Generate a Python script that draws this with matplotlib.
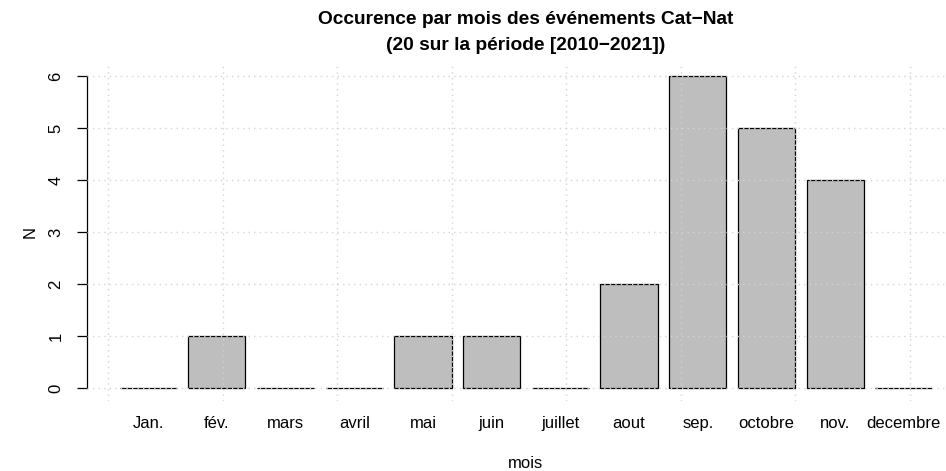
import numpy as np
import matplotlib.pyplot as plt

plt.rcParams['font.family'] = ['Liberation Sans', 'DejaVu Sans']

months = ["Jan.", "fév.", "mars", "avril", "mai", "juin", "juillet",
          "aout", "sep.", "octobre", "nov.", "decembre"]
counts = [0, 1, 0, 0, 1, 1, 0, 2, 6, 5, 4, 0]

# R barplot layout: width 1, space 0.2
width = 1.0
space = 0.2
lefts = space + np.arange(len(months)) * (width + space)
centers = lefts + width / 2

fig = plt.figure(figsize=(9.46, 4.71), dpi=100)
ax = fig.add_axes([87 / 946, 1 - 400.5 / 471, 878 / 946, 337 / 471])

ax.bar(centers, counts, width=width, color="#BEBEBE", edgecolor="black",
       linewidth=0.9, zorder=2)

x0, x1 = lefts[0], lefts[-1] + width
pad = (x1 - x0) * 0.04
ax.set_xlim(x0 - pad, x1 + pad)
ax.set_ylim(-0.24, 6.24)

# dotted grid on top of bars, like R's grid()
for gx in np.arange(0, 15, 2):
    ax.axvline(gx, color="#D3D3D3", linestyle=(0, (1, 3)), linewidth=1, zorder=3)
for gy in range(7):
    ax.axhline(gy, color="#D3D3D3", linestyle=(0, (1, 3)), linewidth=1, zorder=3)

for s in ["top", "right", "bottom"]:
    ax.spines[s].set_visible(False)
ax.spines["left"].set_bounds(0, 6)
ax.spines["left"].set_linewidth(0.9)

fs = 12
ax.set_yticks(range(7))
ax.set_yticklabels([str(v) for v in range(7)], rotation=90, va="center", fontsize=fs)
ax.tick_params(axis="y", length=7, width=0.9, pad=10)

ax.set_xticks(centers)
ax.set_xticklabels(months, fontsize=fs)
ax.tick_params(axis="x", length=0, pad=11)

fig.text(526 / 946, 1 - 464 / 471, "mois", ha="center", va="center", fontsize=fs)
fig.text(30 / 946, 1 - 232 / 471, "N", ha="center", va="center", rotation=90, fontsize=fs)

fig.text(526 / 946, 1 - 20 / 471, "Occurence par mois des événements Cat\u2212Nat",
         ha="center", va="center", fontsize=13.8, fontweight="bold")
fig.text(526 / 946, 1 - 45 / 471, "(20 sur la période [2010\u22122021])",
         ha="center", va="center", fontsize=13.8, fontweight="bold")

fig.savefig("out.png", dpi=100)
